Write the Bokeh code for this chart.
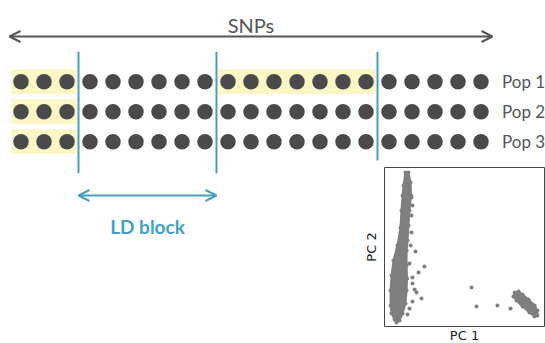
from bokeh.plotting import figure
from bokeh.models import Range1d, Arrow, OpenHead, Label
from bokeh.core.properties import value
from bokeh.embed import file_html
from bokeh.resources import INLINE
import numpy as np

# ---------------- data ----------------
snp_ids = list(range(1, 22))             # 21 SNPs
pop_ids = [1, 2, 3]
pop_labels = ["Pop 1", "Pop 2", "Pop 3"]

# highlighted (shared haplotype) blocks: population, first SNP, last SNP
hl_pop = [1, 2, 3, 1]
hl_first = [1, 1, 1, 10]
hl_last = [3, 3, 3, 16]

# LD block boundaries (between SNPs) and how far down each line reaches
ld_bounds = [3.5, 9.5, 16.5]
ld_line_bottom = [4.05, 4.05, 3.62]
ld_block = (3.5, 9.5)

# PCA inset (PC1, PC2 scaled to 0..1)
main_x = [0.131, 0.119, 0.113, 0.106, 0.100, 0.081, 0.056, 0.044, 0.038, 0.038, 0.044, 0.063, 0.075,
          0.094, 0.113, 0.131, 0.138, 0.141, 0.138, 0.138, 0.144, 0.150, 0.156, 0.166, 0.163, 0.150]
main_y = [0.969, 0.887, 0.824, 0.730, 0.623, 0.509, 0.415, 0.321, 0.226, 0.132, 0.082, 0.044, 0.025,
          0.038, 0.082, 0.145, 0.226, 0.302, 0.384, 0.478, 0.541, 0.635, 0.730, 0.824, 0.906, 0.969]
side_x = [0.813, 0.838, 0.863, 0.900, 0.938, 0.956, 0.956, 0.938, 0.906, 0.863, 0.825, 0.806]
side_y = [0.214, 0.220, 0.201, 0.170, 0.132, 0.101, 0.069, 0.063, 0.088, 0.126, 0.164, 0.189]
out_x = [0.169, 0.175, 0.169, 0.169, 0.194, 0.250, 0.213, 0.175, 0.175, 0.188, 0.200, 0.231, 0.175,
         0.156, 0.163, 0.156, 0.144, 0.544, 0.575, 0.706, 0.788]
out_y = [0.811, 0.761, 0.698, 0.591, 0.472, 0.377, 0.340, 0.308, 0.270, 0.233, 0.214, 0.176, 0.157,
         0.396, 0.509, 0.113, 0.075, 0.245, 0.126, 0.132, 0.113]

# ---------------- layout ----------------
W, H = 545, 343
px_snp = 23.0        # pixels per SNP
px_pop = 30.0        # pixels per population row
x0 = 1 - 20.5 / px_snp
y_top = 1 - 81.3 / px_pop

BLUE = "#45a0c4"
YELLOW = "#fdf7c6"
DOT = "#4a4a4a"
GREY_TXT = "#555555"
SCAT = "#7f7f7f"

p = figure(width=W, height=H, output_backend="svg", toolbar_location=None,
           x_range=Range1d(x0, x0 + W / px_snp),
           y_range=Range1d(y_top + H / px_pop, y_top),
           x_axis_location=None, y_axis_location=None,
           min_border=0, min_border_left=0, min_border_right=0,
           min_border_top=0, min_border_bottom=0)
p.grid.visible = False
p.outline_line_color = None
p.background_fill_color = "white"
p.border_fill_color = "white"

# inset ranges: box occupies frame px x 384..544, y(from bottom) 17..176
box_l, box_w = 384, 160
box_b, box_h = 17, 159
p.extra_x_ranges = {"pc1": Range1d(-box_l / box_w, (W - box_l) / box_w)}
p.extra_y_ranges = {"pc2": Range1d(-box_b / box_h, (H - box_b) / box_h)}

# yellow highlights
p.quad(left=[f - 0.42 for f in hl_first], right=[l + 0.42 for l in hl_last],
       top=[q - 0.415 for q in hl_pop], bottom=[q + 0.415 for q in hl_pop],
       fill_color=YELLOW, line_color=None)

# LD boundary lines
p.segment(x0=ld_bounds, y0=[0.0] * len(ld_bounds), x1=ld_bounds, y1=ld_line_bottom,
          line_color=BLUE, line_width=2)

# SNP dots
gx, gy = np.meshgrid(snp_ids, pop_ids)
p.scatter(x=gx.ravel(), y=gy.ravel(), size=15.5, fill_color=DOT, line_color=None)

# population labels
p.text(x=[snp_ids[-1]] * len(pop_ids), y=pop_ids, text=pop_labels, x_offset=21,
       text_baseline="middle", text_align="left", text_font=value("Lato"),
       text_font_size="17px", text_color=GREY_TXT)

# SNPs arrow + label
p.add_layout(Arrow(start=OpenHead(size=11, line_color=GREY_TXT, line_width=2),
                   end=OpenHead(size=11, line_color=GREY_TXT, line_width=2),
                   x_start=snp_ids[0] - 0.5, x_end=snp_ids[-1] + 0.5,
                   y_start=-0.51, y_end=-0.51, line_color=GREY_TXT, line_width=2))
p.add_layout(Label(x=(snp_ids[0] + snp_ids[-1]) / 2, y=-0.91, text="SNPs",
                   text_align="center", text_baseline="alphabetic",
                   text_font="Lato", text_font_size="20px", text_color=GREY_TXT))

# LD block arrow + label
p.add_layout(Arrow(start=OpenHead(size=11, line_color=BLUE, line_width=2),
                   end=OpenHead(size=11, line_color=BLUE, line_width=2),
                   x_start=ld_block[0], x_end=ld_block[1],
                   y_start=4.79, y_end=4.79, line_color=BLUE, line_width=2))
p.add_layout(Label(x=sum(ld_block) / 2, y=5.82, text="LD block",
                   text_align="center", text_baseline="alphabetic",
                   text_font="Lato", text_font_style="bold",
                   text_font_size="19px", text_color=BLUE))

# ---------- PCA inset ----------
p.patch(x=main_x, y=main_y, fill_color=SCAT, line_color=SCAT, line_width=2,
        x_range_name="pc1", y_range_name="pc2")
p.scatter(x=main_x, y=main_y, size=4, fill_color=SCAT, line_color=None,
          x_range_name="pc1", y_range_name="pc2")
p.patch(x=side_x, y=side_y, fill_color=SCAT, line_color=SCAT, line_width=2,
        x_range_name="pc1", y_range_name="pc2")
p.scatter(x=side_x, y=side_y, size=4, fill_color=SCAT, line_color=None,
          x_range_name="pc1", y_range_name="pc2")
p.scatter(x=out_x, y=out_y, size=4, fill_color=SCAT, line_color=None,
          x_range_name="pc1", y_range_name="pc2")
p.quad(left=[0], right=[1], bottom=[0], top=[1], fill_color=None,
       line_color="#444444", line_width=1,
       x_range_name="pc1", y_range_name="pc2")
p.add_layout(Label(x=0.5, y=-0.057, text="PC 1", text_align="center",
                   text_baseline="middle", text_font="DejaVu Sans",
                   text_font_size="13px", text_color="#222222",
                   x_range_name="pc1", y_range_name="pc2"))
p.add_layout(Label(x=-0.081, y=0.5, text="PC 2", text_align="center",
                   text_baseline="middle", text_font="DejaVu Sans", angle=np.pi / 2,
                   text_font_size="13px", text_color="#222222",
                   x_range_name="pc1", y_range_name="pc2"))

open("out.html", "w").write(file_html(p, INLINE))
